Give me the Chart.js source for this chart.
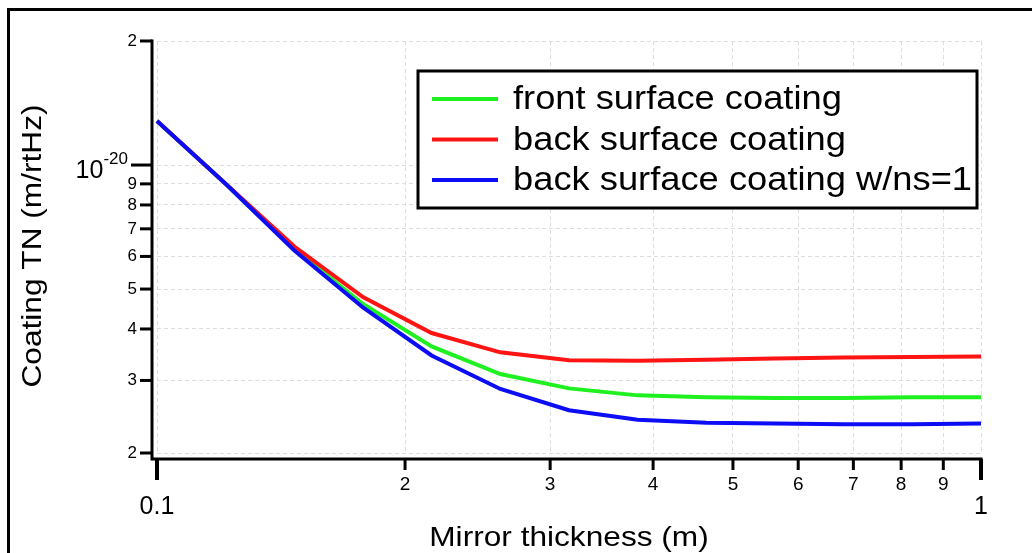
<!DOCTYPE html>
<html>
<head>
<meta charset="utf-8">
<script src="https://cdn.jsdelivr.net/npm/chart.js@4/dist/chart.umd.min.js"></script>
<style>
  html, body { margin: 0; padding: 0; background: #fff; }
  canvas { display: block; }
</style>
</head>
<body>
<canvas id="tn-chart" width="1032" height="553"></canvas>
<script>
// mirror thickness (m)
const thickness = [0.1, 0.1212, 0.1468, 0.1778, 0.2154, 0.2610, 0.3162, 0.3831, 0.4642, 0.5623, 0.6813, 0.8254, 1.0];

// coating thermal noise (m/rtHz)
const frontSurface = [1.279e-20, 8.99e-21, 6.24e-21, 4.60e-21, 3.63e-21, 3.11e-21, 2.87e-21, 2.76e-21, 2.73e-21, 2.72e-21, 2.72e-21, 2.73e-21, 2.73e-21];
const backSurface  = [1.279e-20, 9.00e-21, 6.34e-21, 4.78e-21, 3.91e-21, 3.51e-21, 3.36e-21, 3.35e-21, 3.37e-21, 3.39e-21, 3.41e-21, 3.42e-21, 3.43e-21];
const backSurfaceNs1 = [1.279e-20, 8.99e-21, 6.20e-21, 4.51e-21, 3.45e-21, 2.86e-21, 2.54e-21, 2.41e-21, 2.37e-21, 2.36e-21, 2.35e-21, 2.35e-21, 2.36e-21];

const seriesLabels = ['front surface coating', 'back surface coating', 'back surface coating w/ns=1'];

const xTicks = [0.1, 0.2, 0.3, 0.4, 0.5, 0.6, 0.7, 0.8, 0.9, 1];
const xTickLabels = ['0.1', '2', '3', '4', '5', '6', '7', '8', '9', '1'];
const yTicks = [2e-21, 3e-21, 4e-21, 5e-21, 6e-21, 7e-21, 8e-21, 9e-21, 1e-20, 2e-20];
const yTickLabels = ['2', '3', '4', '5', '6', '7', '8', '9', '10|-20', '2'];

const FONT = '"Liberation Sans", Arial, sans-serif';
const GREEN = '#1ff01f', RED = '#ff1414', BLUE = '#0c0cf5';

const toPoints = ys => thickness.map((x, i) => ({ x, y: ys[i] }));

// text slightly stretched sideways, like the original export
function wideText(ctx, str, x, y, size, sx, align) {
  ctx.save();
  ctx.font = size + 'px ' + FONT;
  ctx.textAlign = align;
  ctx.textBaseline = 'middle';
  ctx.translate(x, y);
  ctx.scale(sx, 1);
  ctx.fillText(str, 0, 0);
  ctx.restore();
}

// spines, tick marks, tick labels, titles, legend and outer frame
const axesDecor = {
  id: 'axesDecor',
  afterDraw(chart) {
    const { ctx, scales: { x, y } } = chart;
    const spineX = 152, spineY = 459;
    ctx.save();
    ctx.strokeStyle = '#000';
    ctx.fillStyle = '#000';

    // spines
    ctx.lineWidth = 3;
    ctx.beginPath();
    ctx.moveTo(spineX, y.getPixelForValue(2e-20) - 1.5);
    ctx.lineTo(spineX, spineY);
    ctx.lineTo(x.getPixelForValue(1) + 1.5, spineY);
    ctx.stroke();

    // x ticks + labels
    xTicks.forEach((v, i) => {
      const px = x.getPixelForValue(v);
      const major = v === 0.1 || v === 1;
      ctx.lineWidth = major ? 4 : 3;
      ctx.beginPath();
      ctx.moveTo(px, spineY);
      ctx.lineTo(px, spineY + (major ? 21 : 11));
      ctx.stroke();
      ctx.textAlign = 'center';
      ctx.textBaseline = 'middle';
      ctx.font = (major ? '25px ' : '19px ') + FONT;
      ctx.fillText(xTickLabels[i], px, major ? 507 : 485);
    });

    // y ticks + labels
    yTicks.forEach((v, i) => {
      const py = y.getPixelForValue(v);
      const decade = v === 1e-20;
      ctx.lineWidth = 3;
      ctx.beginPath();
      ctx.moveTo(spineX, py);
      ctx.lineTo(spineX - (decade ? 21 : 12), py);
      ctx.stroke();
      ctx.textBaseline = 'middle';
      ctx.textAlign = 'right';
      if (decade) {
        const [base, exp] = yTickLabels[i].split('|');
        ctx.font = '17px ' + FONT;
        const expW = ctx.measureText(exp).width;
        ctx.fillText(exp, 128, py - 6);
        ctx.font = '25px ' + FONT;
        ctx.fillText(base, 128 - expW, py + 6);
      } else {
        ctx.font = '17px ' + FONT;
        ctx.fillText(yTickLabels[i], 137, py);
      }
    });

    // axis titles
    wideText(ctx, 'Mirror thickness (m)', 569, 538, 28, 1.13, 'center');
    ctx.save();
    ctx.translate(33, 246);
    ctx.rotate(-Math.PI / 2);
    wideText(ctx, 'Coating TN (m/rtHz)', 0, 0, 28, 1.13, 'center');
    ctx.restore();

    // legend box
    const box = { l: 418, t: 71, r: 977, b: 208 };
    ctx.fillStyle = '#fff';
    ctx.fillRect(box.l, box.t, box.r - box.l, box.b - box.t);
    ctx.lineWidth = 3;
    ctx.strokeRect(box.l, box.t, box.r - box.l, box.b - box.t);
    const colors = [GREEN, RED, BLUE];
    seriesLabels.forEach((lbl, i) => {
      const cy = 99 + i * 40.5;
      ctx.strokeStyle = colors[i];
      ctx.lineWidth = 4;
      ctx.beginPath();
      ctx.moveTo(432, cy);
      ctx.lineTo(498, cy);
      ctx.stroke();
      ctx.fillStyle = '#000';
      wideText(ctx, lbl, 513, cy + 1, 33, 1.1, 'left');
    });

    // outer frame (only top/left visible)
    ctx.strokeStyle = '#000';
    ctx.lineWidth = 3;
    ctx.strokeRect(8.5, 9.5, 1100, 600);
    ctx.restore();
  }
};

new Chart(document.getElementById('tn-chart'), {
  type: 'line',
  data: {
    datasets: [
      { label: seriesLabels[0], data: toPoints(frontSurface), borderColor: GREEN, order: 3 },
      { label: seriesLabels[1], data: toPoints(backSurface), borderColor: RED, order: 2 },
      { label: seriesLabels[2], data: toPoints(backSurfaceNs1), borderColor: BLUE, order: 1 },
    ],
  },
  options: {
    responsive: false,
    animation: false,
    devicePixelRatio: 1,
    layout: { padding: { left: 157, right: 51, top: 41, bottom: 100 } },
    elements: {
      line: { borderWidth: 4, tension: 0, fill: false },
      point: { radius: 0 },
    },
    datasets: { line: { clip: false } },
    plugins: { legend: { display: false }, tooltip: { enabled: false } },
    scales: {
      x: {
        type: 'logarithmic',
        min: 0.1,
        max: 1,
        afterBuildTicks: s => { s.ticks = xTicks.map(value => ({ value })); },
        ticks: { display: false },
        grid: { color: '#dedede', lineWidth: 1, drawTicks: false },
        border: { display: false, dash: [4, 3] },
      },
      y: {
        type: 'logarithmic',
        min: 2e-21,
        max: 2e-20,
        afterBuildTicks: s => { s.ticks = yTicks.map(value => ({ value })); },
        ticks: { display: false },
        grid: { color: '#dedede', lineWidth: 1, drawTicks: false },
        border: { display: false, dash: [4, 3] },
      },
    },
  },
  plugins: [axesDecor],
});
</script>
</body>
</html>
